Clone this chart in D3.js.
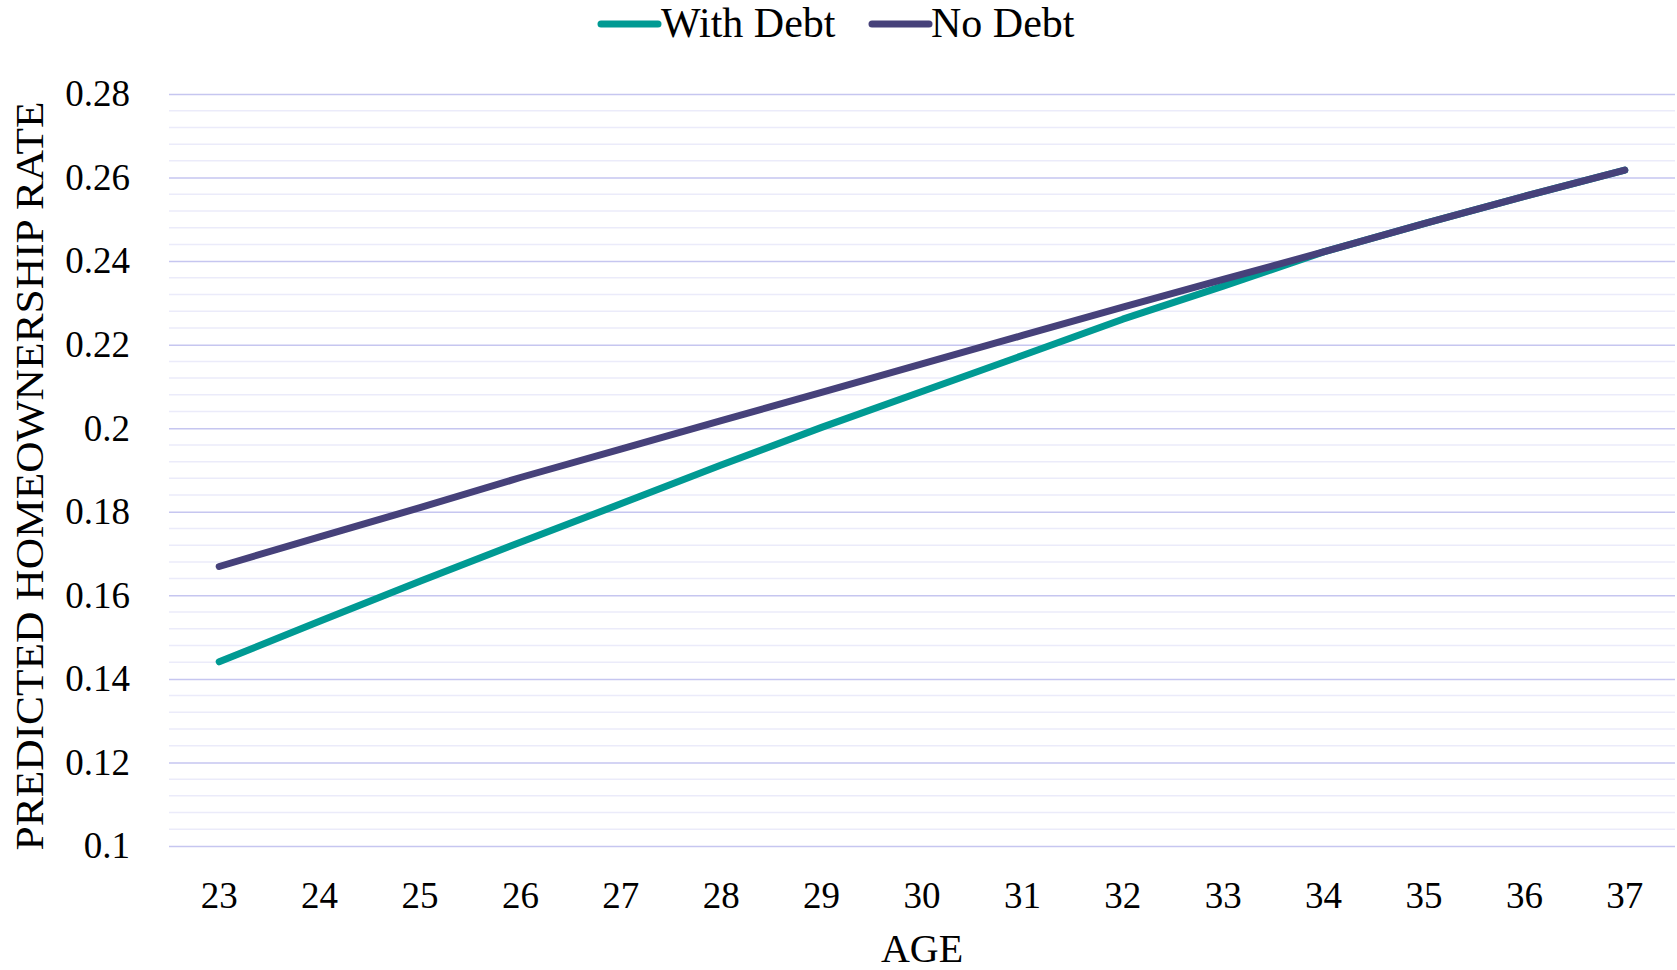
<!DOCTYPE html>
<html>
<head>
<meta charset="utf-8">
<script src="https://cdn.jsdelivr.net/npm/d3@7"></script>
<style>
  html, body { margin: 0; padding: 0; background: #ffffff; }
  svg { display: block; font-family: "Liberation Serif", "Times New Roman", serif; }
</style>
</head>
<body>
<svg id="chart" width="1677" height="970"></svg>
<script>
// Predicted homeownership rate by age, borrowers with and without student debt
const ages = [23, 24, 25, 26, 27, 28, 29, 30, 31, 32, 33, 34, 35, 36, 37];
const withDebt = [0.1441, 0.1538, 0.1634, 0.1727, 0.1819, 0.1912, 0.2002, 0.2088, 0.2174, 0.2261, 0.2340, 0.2422, 0.2490, 0.2555, 0.2618];
const noDebt   = [0.1669, 0.1740, 0.1810, 0.1882, 0.1950, 0.2018, 0.2086, 0.2154, 0.2222, 0.2290, 0.2356, 0.2422, 0.2490, 0.2555, 0.2618];
const seriesNames = ["With Debt", "No Debt"];
const yTicks = [0.1, 0.12, 0.14, 0.16, 0.18, 0.2, 0.22, 0.24, 0.26, 0.28];
const yMinorStep = 0.004;

const colors = { "With Debt": "#009A93", "No Debt": "#46417A" };

const svg = d3.select("#chart");
const plot = { left: 169, right: 1675, top: 94, bottom: 846 };

const x = d3.scaleBand().domain(ages).range([plot.left, plot.right]);
const y = d3.scaleLinear().domain([0.1, 0.28]).range([plot.bottom, plot.top]);

// minor gridlines
const minor = d3.range(0, Math.round((0.28 - 0.1) / yMinorStep) + 1)
  .map(i => +(0.1 + i * yMinorStep).toFixed(4))
  .filter(v => !yTicks.some(t => Math.abs(t - v) < 1e-6));
svg.append("g").selectAll("line").data(minor).join("line")
  .attr("x1", plot.left).attr("x2", plot.right)
  .attr("y1", d => y(d)).attr("y2", d => y(d))
  .attr("stroke", "#EBEBFA").attr("stroke-width", 1.5);

// major gridlines and y axis labels
const yAxis = d3.axisLeft(y).tickValues(yTicks).tickSize(-(plot.right - plot.left))
  .tickPadding(39).tickFormat(d => String(+d.toFixed(2)));
const gy = svg.append("g").attr("transform", `translate(${plot.left},0)`).call(yAxis);
gy.select(".domain").remove();
gy.selectAll(".tick line").attr("stroke", "#C6C6F0").attr("stroke-width", 1.5);
gy.selectAll(".tick text")
  .attr("font-family", "Liberation Serif, serif")
  .attr("font-size", 37).attr("fill", "#000").attr("dy", "0.32em");

// x axis labels
const xAxis = d3.axisBottom(x).tickSize(0).tickPadding(0);
const gx = svg.append("g").attr("transform", `translate(0,${plot.bottom})`).call(xAxis);
gx.select(".domain").remove();
gx.selectAll(".tick text")
  .attr("font-family", "Liberation Serif, serif")
  .attr("font-size", 37).attr("fill", "#000")
  .attr("y", 62).attr("dy", 0);

// lines
const line = d3.line().x((d, i) => x(ages[i]) + x.bandwidth() / 2).y(d => y(d));
const seriesData = [
  { name: "With Debt", values: withDebt },
  { name: "No Debt", values: noDebt }
];
svg.append("g").selectAll("path").data(seriesData).join("path")
  .attr("d", d => line(d.values))
  .attr("fill", "none")
  .attr("stroke", d => colors[d.name])
  .attr("stroke-width", 7)
  .attr("stroke-linecap", "round")
  .attr("stroke-linejoin", "round");

// axis titles
svg.append("text")
  .attr("transform", "translate(43,476) rotate(-90)")
  .attr("text-anchor", "middle")
  .attr("font-size", 40)
  .attr("textLength", 749).attr("lengthAdjust", "spacingAndGlyphs")
  .attr("fill", "#000")
  .text("PREDICTED HOMEOWNERSHIP RATE");

svg.append("text")
  .attr("x", (plot.left + plot.right) / 2).attr("y", 962)
  .attr("text-anchor", "middle")
  .attr("font-size", 40).attr("fill", "#000")
  .text("AGE");

// legend
const legendPos = [{ lx: 601, tx: 661 }, { lx: 872, tx: 931 }];
const lg = svg.append("g").selectAll("g").data(seriesNames).join("g");
lg.append("line")
  .attr("x1", (d, i) => legendPos[i].lx).attr("x2", (d, i) => legendPos[i].lx + 57)
  .attr("y1", 24).attr("y2", 24)
  .attr("stroke", d => colors[d]).attr("stroke-width", 7).attr("stroke-linecap", "round");
lg.append("text")
  .attr("x", (d, i) => legendPos[i].tx).attr("y", 37)
  .attr("font-size", 42).attr("fill", "#000")
  .text(d => d);
</script>
</body>
</html>
